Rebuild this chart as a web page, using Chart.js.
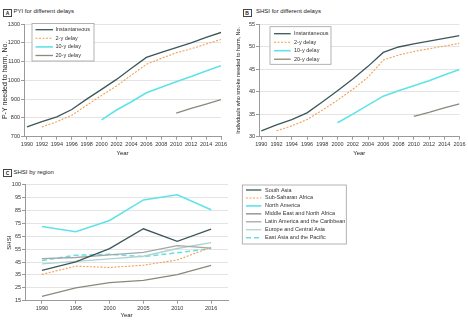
<!DOCTYPE html>
<html>
<head>
<meta charset="utf-8">
<script src="https://cdn.jsdelivr.net/npm/chart.js@4/dist/chart.umd.min.js"></script>
<style>
  body { margin: 0; background: #fff; width: 468px; height: 325px; position: relative; overflow: hidden; }
  canvas { position: absolute; }
  .tag { position: absolute; width: 7px; height: 6px; border: 0.8px solid #444; color: #222;
         font: bold 5px/6px "Liberation Sans", Arial, sans-serif; text-align: center; }
  .ttl { position: absolute; color: #222; white-space: nowrap;
         font: 6px/7px "Liberation Sans", Arial, sans-serif; }
</style>
</head>
<body>
<div class="tag" style="left:3px;top:8.5px">A</div>
<div class="ttl" style="left:13.5px;top:7.5px">PYI for different delays</div>
<div class="tag" style="left:242.5px;top:8.5px">B</div>
<div class="ttl" style="left:256px;top:8px">SHSI for different delays</div>
<div class="tag" style="left:3px;top:169px">C</div>
<div class="ttl" style="left:13.5px;top:168.5px">SHSI by region</div>

<canvas id="pyiChart" width="234" height="165" style="left:0;top:0"></canvas>
<canvas id="shsiChart" width="234" height="165" style="left:234px;top:0"></canvas>
<canvas id="regionChart" width="468" height="160" style="left:0;top:165px"></canvas>

<script>
// years shown on panels A and B
const years = [1990, 1992, 1994, 1996, 1998, 2000, 2002, 2004, 2006, 2008, 2010, 2012, 2014, 2016];

// A: person-years of smoking needed to harm one person
const pyiInstant = [752, 780, 806, 845, 900, 952, 1005, 1064, 1122, 1149, 1174, 1200, 1229, 1255];
const pyiDelay2  = [null, 752, 780, 814, 867, 920, 970, 1028, 1085, 1117, 1147, 1168, 1193, 1218];
const pyiDelay10 = [null, null, null, null, null, 790, 842, 886, 934, 963, 993, 1020, 1050, 1078];
const pyiDelay20 = [null, null, null, null, null, null, null, null, null, null, 826, 851, 874, 898];

// B: smokers needed to harm one person
const shsiInstant = [31.3, 32.6, 33.8, 35.3, 37.7, 40.2, 42.8, 45.6, 48.7, 49.9, 50.6, 51.2, 51.8, 52.4];
const shsiDelay2  = [null, 31.3, 32.4, 33.8, 35.9, 38.1, 40.5, 43.2, 47.0, 48.1, 48.9, 49.5, 50.1, 50.7];
const shsiDelay10 = [null, null, null, null, null, 33.1, 35.0, 37.0, 39.0, 40.2, 41.3, 42.4, 43.7, 44.9];
const shsiDelay20 = [null, null, null, null, null, null, null, null, null, null, 34.5, 35.4, 36.4, 37.3];

// C: SHSI by region
const regionYears = ['1990', '1995', '2000', '2005', '2010', '2016'];
const southAsia        = [38.6, 45.1, 55.4, 70.8, 61.0, 70.5];
const subSaharanAfrica = [35.4, 41.8, 40.8, 42.5, 46.6, 56.5];
const northAmerica     = [72.6, 68.5, 77.2, 93.2, 97.2, 85.5];
const middleEast       = [18.3, 25.0, 29.1, 30.7, 35.3, 42.5];
const latinAmerica     = [47.6, 48.5, 50.5, 52.5, 57.8, 55.8];
const europeCentral    = [43.5, 45.5, 47.5, 49.5, 55.5, 60.0];
const eastAsiaPacific  = [46.2, 50.3, 51.0, 49.2, 52.2, 55.5];

const FONT = '"Liberation Sans", Arial, sans-serif';
const textColor = '#333';
const axisColor = '#9a9a9a';
const gridColor = '#e4e4e4';

const colDark = '#3d5658';
const colOrange = '#f2a04e';
const colCyan = '#5fe3e8';
const colBrown = '#8d887d';

// legend drawn as a framed box at a fixed spot
const boxLegend = {
  id: 'boxLegend',
  afterDraw(chart, args, o) {
    const ctx = chart.ctx;
    ctx.save();
    ctx.fillStyle = '#fff';
    ctx.fillRect(o.x, o.y, o.w, o.h);
    ctx.strokeStyle = '#a0a0a0';
    ctx.lineWidth = 0.8;
    ctx.strokeRect(o.x, o.y, o.w, o.h);
    ctx.font = o.fontSize + 'px ' + FONT;
    ctx.textBaseline = 'middle';
    chart.data.datasets.forEach((ds, i) => {
      const y = o.y + o.first + i * o.step;
      ctx.beginPath();
      ctx.setLineDash(ds.borderDash || []);
      ctx.strokeStyle = ds.borderColor;
      ctx.lineWidth = ds.borderWidth;
      ctx.moveTo(o.x + o.s0, y);
      ctx.lineTo(o.x + o.s1, y);
      ctx.stroke();
      ctx.setLineDash([]);
      ctx.fillStyle = textColor;
      ctx.fillText(ds.label, o.x + o.tx, y);
    });
    ctx.restore();
  }
};

function series(label, values, color, width, dash) {
  return {
    label: label,
    data: values,
    borderColor: color,
    borderWidth: width,
    borderDash: dash || [],
    pointRadius: 0,
    tension: 0,
    fill: false
  };
}

function yearSeries(label, values, color, width, dash) {
  const s = series(label, years.map((y, i) => ({ x: y, y: values[i] })), color, width, dash);
  return s;
}

function delayChart(id, sets, xMin, yMin, yMax, yStep, yTitle, yTitleSize, pad, legend) {
  return new Chart(document.getElementById(id), {
    type: 'line',
    data: { datasets: sets },
    options: {
      responsive: false,
      animation: false,
      layout: { padding: { top: 24, right: pad.right, left: 0, bottom: 0 } },
      plugins: { legend: { display: false }, tooltip: { enabled: false }, boxLegend: legend },
      scales: {
        x: {
          type: 'linear', min: xMin, max: 2016,
          afterBuildTicks: s => { s.ticks = years.map(v => ({ value: v })); },
          afterFit: s => { s.height = 28.3; },
          grid: { drawOnChartArea: false, tickLength: 3, tickColor: axisColor },
          border: { color: axisColor },
          ticks: { callback: v => String(v), font: { family: FONT, size: 5.5 }, color: textColor,
                   padding: 1, maxRotation: 0, autoSkip: false },
          title: { display: true, text: 'Year', color: '#222', font: { family: FONT, size: 6 },
                   padding: { top: 0, bottom: 8.4 } }
        },
        y: {
          min: yMin, max: yMax,
          afterFit: s => { s.width = pad.left; },
          grid: { color: gridColor, tickLength: 3, tickColor: axisColor },
          border: { color: axisColor },
          ticks: { stepSize: yStep, callback: v => String(v), font: { family: FONT, size: 5.5 },
                   color: textColor, padding: 1 },
          title: { display: true, text: yTitle, color: '#222', font: { family: FONT, size: yTitleSize },
                   padding: { top: 1, bottom: 0 } }
        }
      }
    },
    plugins: [boxLegend]
  });
}

delayChart('pyiChart', [
  yearSeries('Instantaneous', pyiInstant, colDark, 1.3),
  yearSeries('2-y delay', pyiDelay2, colOrange, 1.1, [2, 1.5]),
  yearSeries('10-y delay', pyiDelay10, colCyan, 1.6),
  yearSeries('20-y delay', pyiDelay20, colBrown, 1.3)
], 1989.6, 700, 1300, 100, 'P-Y needed to harm, No.', 7, { left: 24, right: 13 },
  { x: 32, y: 23.5, w: 62, h: 37.5, first: 6.2, step: 8.6, s0: 3.5, s1: 21, tx: 23.5, fontSize: 5.5 });

delayChart('shsiChart', [
  yearSeries('Instantaneous', shsiInstant, colDark, 1.3),
  yearSeries('2-y delay', shsiDelay2, colOrange, 1.1, [2, 1.5]),
  yearSeries('10-y delay', shsiDelay10, colCyan, 1.6),
  yearSeries('20-y delay', shsiDelay20, colBrown, 1.3)
], 1989.7, 30, 55, 5, 'Individuals who smoke needed to harm, No.', 5.5, { left: 25, right: 8.5 },
  { x: 36, y: 26.7, w: 61, h: 37.6, first: 7, step: 8.5, s0: 4, s1: 20.7, tx: 24, fontSize: 5.5 });

new Chart(document.getElementById('regionChart'), {
  type: 'line',
  data: {
    labels: regionYears,
    datasets: [
      series('South Asia', southAsia, colDark, 1.3),
      series('Sub-Saharan Africa', subSaharanAfrica, colOrange, 1.1, [2, 1.5]),
      series('North America', northAmerica, colCyan, 1.6),
      series('Middle East and North Africa', middleEast, colBrown, 1.3),
      series('Latin America and the Caribbean', latinAmerica, '#a6a6a6', 1.3),
      series('Europe and Central Asia', europeCentral, '#aed3cf', 1.3),
      series('East Asia and the Pacific', eastAsiaPacific, '#66e0e2', 1.5, [5, 3])
    ]
  },
  options: {
    responsive: false,
    animation: false,
    layout: { padding: { top: 19.7, right: 240, left: 0, bottom: 0 } },
    plugins: {
      legend: { display: false },
      tooltip: { enabled: false },
      boxLegend: { x: 242.3, y: 20, w: 104, h: 59, first: 5, step: 7.95, s0: 3.7, s1: 19, tx: 22.7, fontSize: 5.5 }
    },
    scales: {
      x: {
        offset: true,
        afterFit: s => { s.height = 24.3; },
        grid: { drawOnChartArea: false, tickLength: 3, tickColor: axisColor },
        border: { color: axisColor },
        ticks: { font: { family: FONT, size: 5.5 }, color: textColor, padding: 1, maxRotation: 0 },
        title: { display: true, text: 'Year', color: '#222', font: { family: FONT, size: 6 },
                 padding: { top: 0, bottom: 5.7 } }
      },
      y: {
        min: 15, max: 105,
        afterFit: s => { s.width = 25; },
        grid: { color: gridColor, tickLength: 3, tickColor: axisColor },
        border: { color: axisColor },
        ticks: { stepSize: 10, callback: v => (v === 105 ? '100' : String(v)),
                 font: { family: FONT, size: 5.5 }, color: textColor, padding: 1 },
        title: { display: true, text: 'SHSI', color: '#222', font: { family: FONT, size: 6 },
                 padding: { top: 6, bottom: 0 } }
      }
    }
  },
  plugins: [boxLegend]
});
</script>
</body>
</html>
